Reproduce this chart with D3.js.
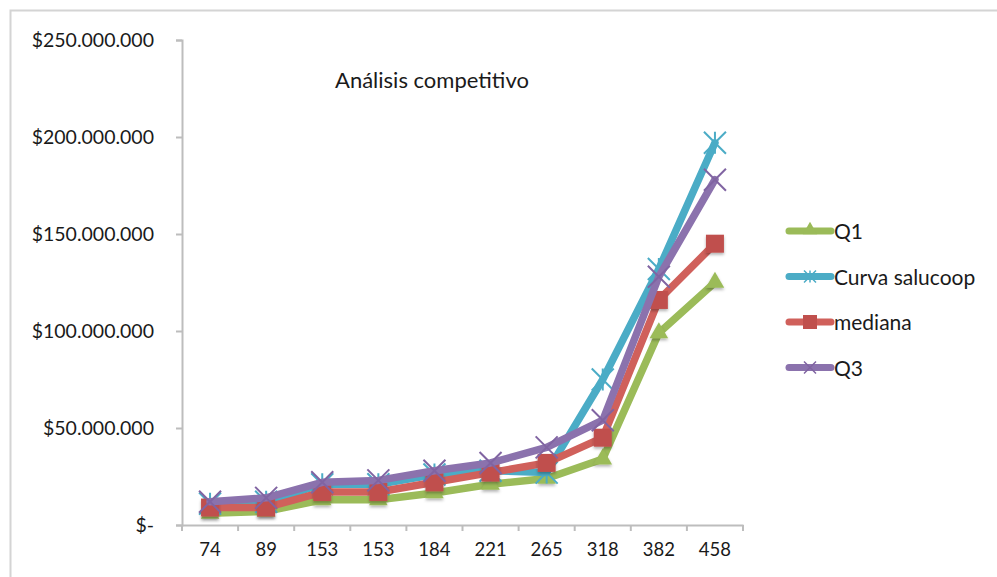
<!DOCTYPE html>
<html>
<head>
<meta charset="utf-8">
<script src="https://cdn.jsdelivr.net/npm/d3@7"></script>
<style>
  html, body { margin: 0; padding: 0; background: #fff; }
  svg { display: block; font-family: Lato, "Open Sans", sans-serif; }
</style>
</head>
<body>
<svg id="chart" width="997" height="577"></svg>
<script>
// Category labels along the x axis (headcount buckets)
const categories = ["74", "89", "153", "153", "184", "221", "265", "318", "382", "458"];

// Series values, in pesos
const q1      = [6e6, 7e6, 13e6, 13e6, 16.5e6, 21e6, 24e6, 34e6, 99e6, 125e6];
const curva   = [11e6, 12e6, 21e6, 21e6, 26e6, 28e6, 27e6, 75e6, 132e6, 197e6];
const mediana = [9e6, 9e6, 17e6, 17e6, 22e6, 27e6, 32e6, 45e6, 116e6, 145e6];
const q3      = [12e6, 14e6, 22e6, 23e6, 28e6, 32e6, 40e6, 54e6, 128e6, 178e6];

const yTicks = [0, 50e6, 100e6, 150e6, 200e6, 250e6];
const title = "Análisis competitivo";

const series = [
  { name: "Q1", values: q1, line: "#9bbb59", fill: "#9bbb59", marker: "triangle" },
  { name: "Curva salucoop", values: curva, line: "#4bacc6", fill: "#4bacc6", marker: "star" },
  { name: "mediana", values: mediana, line: "#d0605b", fill: "#c0504d", marker: "square" },
  { name: "Q3", values: q3, line: "#8b72ad", fill: "#8064a2", marker: "cross" }
];

const svg = d3.select("#chart");

// Outer chart frame
svg.append("rect")
  .attr("x", 10.5).attr("y", 10.5)
  .attr("width", 1000).attr("height", 600)
  .attr("fill", "none").attr("stroke", "#d4d4d4").attr("stroke-width", 2);

const plot = { left: 182, right: 743, top: 40, bottom: 525 };

const x = d3.scaleBand()
  .domain(d3.range(categories.length))
  .range([plot.left, plot.right]);

const y = d3.scaleLinear()
  .domain([0, 250e6])
  .range([plot.bottom, plot.top]);

const fmt = v => v === 0 ? "$-" : "$" + d3.format(",")(v).replace(/,/g, ".");

// Y axis
const yAxis = svg.append("g")
  .attr("transform", `translate(${plot.left},0)`)
  .call(d3.axisLeft(y).tickValues(yTicks).tickSize(6).tickPadding(22).tickFormat(fmt));
yAxis.select(".domain").attr("stroke", "#bdbdbd").attr("stroke-width", 2);
yAxis.selectAll(".tick line").attr("stroke", "#bdbdbd").attr("stroke-width", 2);
yAxis.selectAll(".tick text")
  .attr("font-size", 19.5).attr("fill", "#1a1a1a")
  .attr("font-family", "Lato, sans-serif")
  .attr("dy", "0.35em");

// X axis
const xAxis = svg.append("g")
  .attr("transform", `translate(0,${plot.bottom})`)
  .call(d3.axisBottom(x).tickFormat(i => categories[i]).tickSize(0).tickPadding(18));
xAxis.select(".domain").attr("stroke", "#bdbdbd").attr("stroke-width", 2);
xAxis.selectAll(".tick text")
  .attr("font-size", 18.5).attr("fill", "#1a1a1a")
  .attr("font-family", "Lato, sans-serif");
// tick marks at the category boundaries
xAxis.selectAll(".boundary")
  .data(d3.range(categories.length + 1))
  .join("line")
  .attr("class", "boundary")
  .attr("x1", i => plot.left + i * x.step())
  .attr("x2", i => plot.left + i * x.step())
  .attr("y1", 0).attr("y2", 6)
  .attr("stroke", "#bdbdbd").attr("stroke-width", 2);

// Title
svg.append("text")
  .attr("x", 432).attr("y", 88)
  .attr("text-anchor", "middle")
  .attr("font-size", 22).attr("fill", "#1a1a1a")
  .text(title);

// Soft shadow for markers
const defs = svg.append("defs");
const f = defs.append("filter").attr("id", "shadow")
  .attr("x", "-50%").attr("y", "-50%").attr("width", "200%").attr("height", "200%");
f.append("feDropShadow").attr("dx", 0).attr("dy", 2).attr("stdDeviation", 1.5)
  .attr("flood-color", "#000").attr("flood-opacity", 0.3);

function drawMarker(g, type, color, cx, cy) {
  if (type === "triangle") {
    g.append("path")
      .attr("d", d3.symbol(d3.symbolTriangle, 150)())
      .attr("transform", `translate(${cx},${cy})`)
      .attr("fill", color).attr("filter", "url(#shadow)");
  } else if (type === "square") {
    g.append("rect")
      .attr("x", cx - 9).attr("y", cy - 9)
      .attr("width", 18).attr("height", 18)
      .attr("fill", color).attr("filter", "url(#shadow)");
  } else if (type === "cross" || type === "star") {
    const r = 11;
    const p = d3.path();
    p.moveTo(cx - r, cy - r); p.lineTo(cx + r, cy + r);
    p.moveTo(cx - r, cy + r); p.lineTo(cx + r, cy - r);
    if (type === "star") { p.moveTo(cx, cy - r); p.lineTo(cx, cy + r); }
    g.append("path").attr("d", p.toString())
      .attr("fill", "none").attr("stroke", color).attr("stroke-width", 2);
  }
}

const line = d3.line()
  .x((d, i) => x(i) + x.bandwidth() / 2)
  .y(d => y(d));

series.forEach(s => {
  const g = svg.append("g");
  g.append("path")
    .datum(s.values)
    .attr("d", line)
    .attr("fill", "none")
    .attr("stroke", s.line)
    .attr("stroke-width", 7.5)
    .attr("stroke-linejoin", "round")
    .attr("stroke-linecap", "round");
  s.values.forEach((v, i) => drawMarker(g, s.marker, s.fill, x(i) + x.bandwidth() / 2, y(v)));
});

// Legend
const legend = svg.append("g");
series.forEach((s, i) => {
  const ly = 231 + i * 45.5;
  const g = legend.append("g");
  g.append("line")
    .attr("x1", 789).attr("x2", 831)
    .attr("y1", ly).attr("y2", ly)
    .attr("stroke", s.line).attr("stroke-width", 7)
    .attr("stroke-linecap", "round");
  if (s.marker === "triangle") {
    g.append("path").attr("d", d3.symbol(d3.symbolTriangle, 90)())
      .attr("transform", `translate(810,${ly - 1})`).attr("fill", s.fill);
  } else if (s.marker === "square") {
    g.append("rect").attr("x", 803).attr("y", ly - 7).attr("width", 14).attr("height", 14)
      .attr("fill", s.fill);
  } else {
    const r = 6, p = d3.path();
    p.moveTo(810 - r, ly - r); p.lineTo(810 + r, ly + r);
    p.moveTo(810 - r, ly + r); p.lineTo(810 + r, ly - r);
    if (s.marker === "star") { p.moveTo(810, ly - r); p.lineTo(810, ly + r); }
    g.append("path").attr("d", p.toString()).attr("stroke", s.fill)
      .attr("stroke-width", 1.5).attr("fill", "none");
  }
  g.append("text")
    .attr("x", 834).attr("y", ly + 1)
    .attr("dy", "0.35em")
    .attr("font-size", 21).attr("fill", "#1a1a1a")
    .text(s.name);
});
</script>
</body>
</html>
